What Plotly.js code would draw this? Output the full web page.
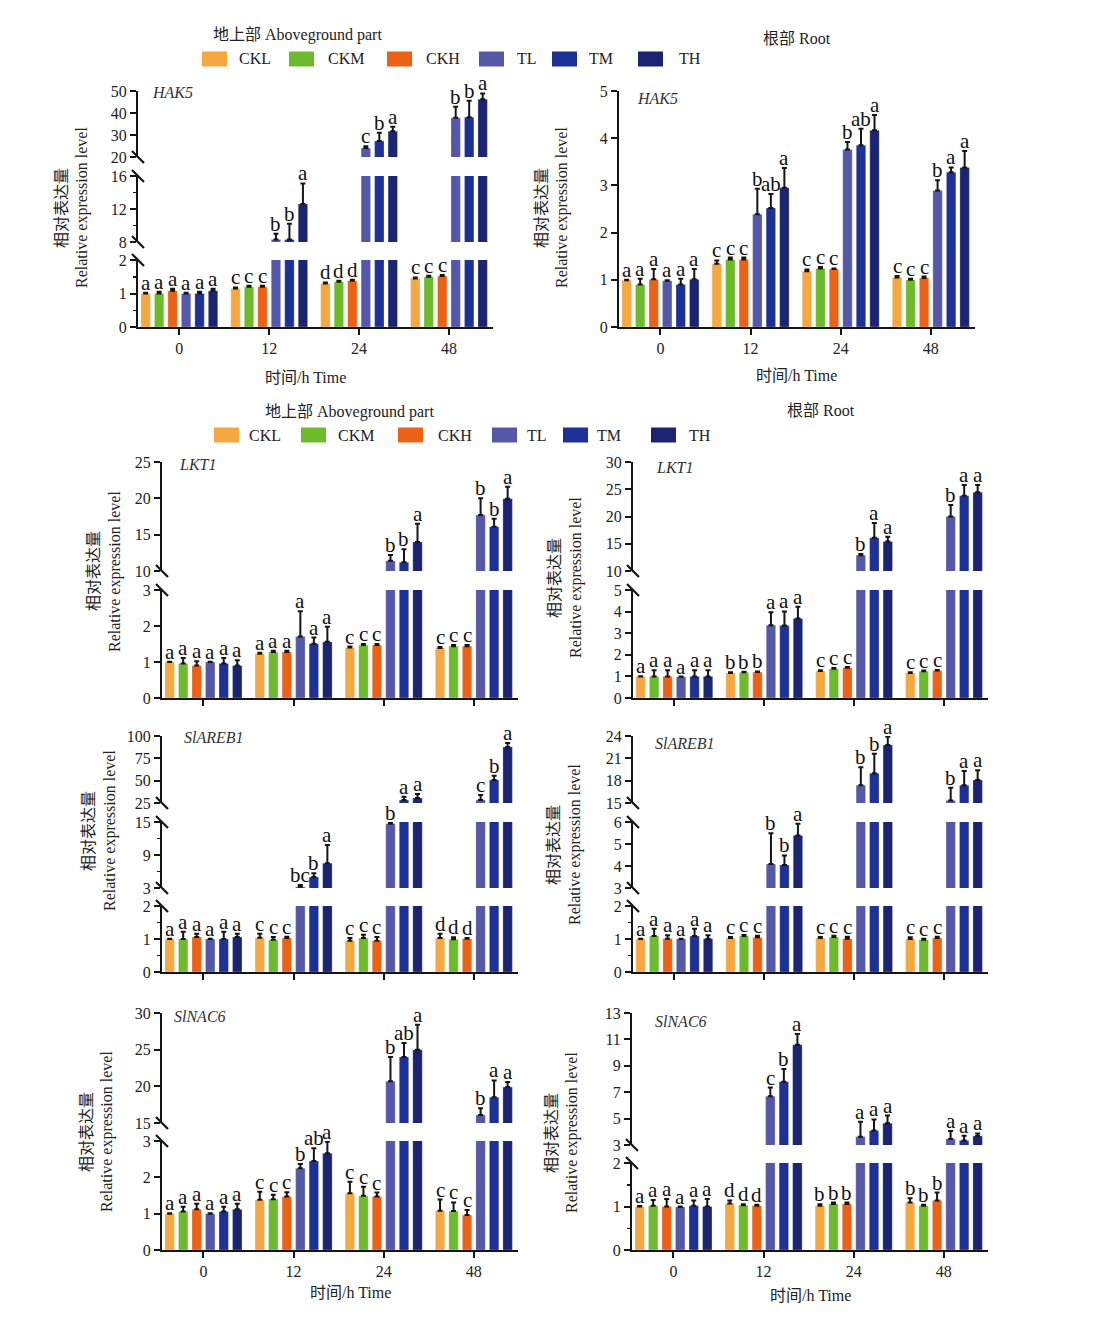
<!DOCTYPE html>
<html><head><meta charset="utf-8">
<script src="https://cdn.plot.ly/plotly-3.0.1.min.js"></script>
<style>html,body{margin:0;padding:0;background:#fff}#chart{width:1100px;height:1342px}</style>
</head><body><div id="chart"></div>
<script>
// ---------------- DATA ----------------
const TIMES = ['0', '12', '24', '48'];
const SERIES = ['CKL', 'CKM', 'CKH', 'TL', 'TM', 'TH'];
const COLORS = ['#F5A842', '#6DBB2D', '#EB6115', '#5458A7', '#1D3194', '#1B2470'];

// rows: CKL, CKM, CKH, TL, TM, TH ; columns: 0, 12, 24, 48 h
const HAK5_ABOVE_MEAN = [[1.00,1.15,1.30,1.45],[1.00,1.20,1.35,1.50],[1.08,1.20,1.38,1.52],[1.00,8.3,24.1,37.8],[1.00,8.3,27.3,38.1],[1.08,12.6,31.7,46.2]];
const HAK5_ABOVE_ERR  = [[0.02,0.03,0.03,0.03],[0.05,0.03,0.03,0.03],[0.06,0.03,0.03,0.03],[0.02,0.7,0.8,5.0],[0.05,1.9,3.7,7.5],[0.06,2.5,2.0,2.7]];
const HAK5_ABOVE_SIG  = [['a','c','d','c'],['a','c','d','c'],['a','c','d','c'],['a','b','c','b'],['a','b','b','b'],['a','a','a','a']];

const HAK5_ROOT_MEAN = [[0.99,1.34,1.18,1.05],[0.90,1.43,1.24,1.00],[1.01,1.43,1.23,1.04],[0.98,2.39,3.76,2.89],[0.90,2.52,3.85,3.28],[1.01,2.95,4.17,3.38]];
const HAK5_ROOT_ERR  = [[0.01,0.07,0.04,0.03],[0.12,0.04,0.03,0.02],[0.22,0.04,0.01,0.03],[0.01,0.54,0.16,0.22],[0.12,0.30,0.35,0.10],[0.22,0.42,0.32,0.35]];
const HAK5_ROOT_SIG  = [['a','c','c','c'],['a','c','c','c'],['a','c','c','c'],['a','b','b','b'],['a','ab','ab','a'],['a','a','a','a']];

const LKT1_ABOVE_MEAN = [[1.00,1.23,1.40,1.39],[0.96,1.28,1.47,1.44],[0.90,1.28,1.47,1.44],[1.00,1.71,11.4,17.7],[0.96,1.51,11.2,16.1],[0.90,1.56,14.0,19.95]];
const LKT1_ABOVE_ERR  = [[0.01,0.03,0.03,0.03],[0.15,0.03,0.03,0.03],[0.12,0.03,0.03,0.03],[0.01,0.70,0.8,2.3],[0.15,0.17,1.8,1.1],[0.15,0.42,2.5,1.65]];
const LKT1_ABOVE_SIG  = [['a','a','c','c'],['a','a','c','c'],['a','a','c','c'],['a','a','b','b'],['a','a','b','b'],['a','a','a','a']];

const LKT1_ROOT_MEAN = [[1.00,1.16,1.25,1.16],[1.00,1.19,1.35,1.24],[1.00,1.20,1.40,1.27],[0.98,3.37,12.9,20.0],[1.00,3.36,16.1,23.8],[1.00,3.68,15.4,24.45]];
const LKT1_ROOT_ERR  = [[0.01,0.03,0.04,0.03],[0.28,0.03,0.04,0.03],[0.28,0.03,0.03,0.03],[0.01,0.60,0.2,2.1],[0.28,0.65,2.7,2.0],[0.28,0.55,0.9,1.35]];
const LKT1_ROOT_SIG  = [['a','b','c','c'],['a','b','c','c'],['a','b','c','c'],['a','a','b','b'],['a','a','a','a'],['a','a','a','a']];

const AREB1_ABOVE_MEAN = [[1.00,1.04,0.95,1.03],[1.00,0.98,1.03,0.99],[1.06,1.03,0.95,1.01],[1.00,3.24,14.7,28.4],[1.00,5.0,28.4,50.8],[1.06,7.5,30.6,87.7]];
const AREB1_ABOVE_ERR  = [[0.01,0.12,0.08,0.13],[0.22,0.08,0.10,0.06],[0.10,0.04,0.11,0.02],[0.01,0.3,0.2,5.6],[0.22,0.7,3.7,4.8],[0.10,3.3,4.5,4.5]];
const AREB1_ABOVE_SIG  = [['a','c','c','d'],['a','c','c','d'],['a','c','c','d'],['a','bc','b','c'],['a','b','a','b'],['a','a','a','a']];

const AREB1_ROOT_MEAN = [[1.00,1.03,1.03,1.00],[1.09,1.09,1.06,0.98],[1.01,1.05,1.01,1.03],[1.00,4.09,17.4,15.35],[1.09,4.05,19.0,17.4],[1.01,5.39,22.8,18.1]];
const AREB1_ROOT_ERR  = [[0.01,0.03,0.03,0.05],[0.22,0.03,0.04,0.03],[0.10,0.05,0.06,0.04],[0.01,1.4,2.4,1.7],[0.22,0.43,2.6,1.9],[0.10,0.53,1.1,1.3]];
const AREB1_ROOT_SIG  = [['a','c','c','c'],['a','c','c','c'],['a','c','c','c'],['a','b','b','b'],['a','b','b','a'],['a','a','a','a']];

const NAC6_ABOVE_MEAN = [[1.00,1.38,1.56,1.08],[1.06,1.40,1.49,1.07],[1.12,1.47,1.47,0.96],[1.00,2.25,20.7,16.1],[1.06,2.45,24.0,18.5],[1.12,2.66,25.0,19.9]];
const NAC6_ABOVE_ERR  = [[0.01,0.22,0.32,0.31],[0.13,0.12,0.25,0.24],[0.15,0.12,0.11,0.14],[0.01,0.12,3.3,0.9],[0.13,0.35,1.9,2.3],[0.15,0.32,3.4,0.7]];
const NAC6_ABOVE_SIG  = [['a','c','c','c'],['a','c','c','c'],['a','c','c','c'],['a','b','b','b'],['a','ab','ab','a'],['a','a','a','a']];

const NAC6_ROOT_MEAN = [[1.00,1.07,1.02,1.09],[1.02,1.03,1.06,1.02],[1.00,1.02,1.06,1.14],[0.99,6.7,3.63,3.46],[1.02,7.8,4.09,3.35],[1.00,10.6,4.65,3.68]];
const NAC6_ROOT_ERR  = [[0.01,0.07,0.03,0.10],[0.13,0.02,0.03,0.02],[0.17,0.02,0.03,0.18],[0.01,0.65,1.14,0.6],[0.12,0.95,0.85,0.35],[0.17,0.8,0.58,0.2]];
const NAC6_ROOT_SIG  = [['a','d','b','b'],['a','d','b','b'],['a','d','b','b'],['a','c','a','a'],['a','b','a','a'],['a','a','a','a']];

// ---------------- LAYOUT CONFIG ----------------
const W = 1100, H = 1342;
const px = v => v / W;
const py = v => 1 - v / H;
const SERIF = '"Liberation Serif", "Times New Roman", "Noto Sans CJK SC", serif';
const INK = '#151515';
const BARGAP = 0.1, GROUPGAP = 0.3;

const panels = [
  {gene:'HAK5', mean:HAK5_ABOVE_MEAN, err:HAK5_ABOVE_ERR, sig:HAK5_ABOVE_SIG, x:[138,493], ticklabels:true,
   segs:[{px:[260,327],range:[0,2],dtick:1,minor:0.5},{px:[176,242],range:[8,16],dtick:4,minor:2},{px:[91,157],range:[20,50],dtick:10}],
   label:[150,93], ytitle:[60,82,208], xtitle:[305,377]},
  {gene:'HAK5', mean:HAK5_ROOT_MEAN, err:HAK5_ROOT_ERR, sig:HAK5_ROOT_SIG, x:[619,975], ticklabels:true,
   segs:[{px:[91,327],range:[0,5],dtick:1}],
   label:[635,98], ytitle:[540,562,208], xtitle:[797,376]},
  {gene:'LKT1', mean:LKT1_ABOVE_MEAN, err:LKT1_ABOVE_ERR, sig:LKT1_ABOVE_SIG, x:[162,518], ticklabels:false,
   segs:[{px:[590,698],range:[0,3],dtick:1},{px:[462,571],range:[10,25],dtick:5}],
   label:[177,465], ytitle:[92,115,571]},
  {gene:'LKT1', mean:LKT1_ROOT_MEAN, err:LKT1_ROOT_ERR, sig:LKT1_ROOT_SIG, x:[633,988], ticklabels:false,
   segs:[{px:[590,698],range:[0,5],dtick:1},{px:[462,571],range:[10,30],dtick:5}],
   label:[654,468], ytitle:[553,576,578]},
  {gene:'SlAREB1', mean:AREB1_ABOVE_MEAN, err:AREB1_ABOVE_ERR, sig:AREB1_ABOVE_SIG, x:[162,518], ticklabels:false,
   segs:[{px:[906,972],range:[0,2],dtick:1,minor:0.5},{px:[822,888],range:[3,15],dtick:6,minor:3},{px:[736,803],range:[25,100],dtick:25}],
   label:[182,737], ytitle:[87,110,831]},
  {gene:'SlAREB1', mean:AREB1_ROOT_MEAN, err:AREB1_ROOT_ERR, sig:AREB1_ROOT_SIG, x:[633,988], ticklabels:false,
   segs:[{px:[906,972],range:[0,2],dtick:1,minor:0.5},{px:[822,888],range:[3,6],dtick:1},{px:[736,803],range:[15,24],dtick:3}],
   label:[653,743], ytitle:[552,575,845]},
  {gene:'SlNAC6', mean:NAC6_ABOVE_MEAN, err:NAC6_ABOVE_ERR, sig:NAC6_ABOVE_SIG, x:[162,518], ticklabels:true,
   segs:[{px:[1141,1250],range:[0,3],dtick:1},{px:[1013,1123],range:[15,30],dtick:5}],
   label:[172,1016], ytitle:[85,107,1132], xtitle:[350,1292]},
  {gene:'SlNAC6', mean:NAC6_ROOT_MEAN, err:NAC6_ROOT_ERR, sig:NAC6_ROOT_SIG, x:[632,988], ticklabels:true,
   segs:[{px:[1163,1250],range:[0,2],dtick:1,minor:0.5},{px:[1013,1145],range:[3,13],dtick:2}],
   label:[653,1021], ytitle:[550,572,1133], xtitle:[810,1295]}
];

const traces = [], annotations = [], shapes = [];
const layout = {
  width: W, height: H, autosize: false,
  margin: {l:0, r:0, t:0, b:0, pad:0},
  paper_bgcolor: '#ffffff', plot_bgcolor: 'rgba(0,0,0,0)',
  showlegend: false, barmode: 'group', bargap: BARGAP, bargroupgap: GROUPGAP,
  font: {family: SERIF, color: '#222'}
};

const slot = (1 - BARGAP) / SERIES.length;
const offsetOf = k => -(1 - BARGAP) / 2 + (k + 0.5) * slot;

let yCount = 0;
panels.forEach((p, pi) => {
  const xName = pi === 0 ? 'x' : 'x' + (pi + 1);
  const xKey = pi === 0 ? 'xaxis' : 'xaxis' + (pi + 1);
  const yNames = [];
  p.segs.forEach((s, si) => {
    yCount++;
    const yName = yCount === 1 ? 'y' : 'y' + yCount;
    const yKey = yCount === 1 ? 'yaxis' : 'yaxis' + yCount;
    yNames.push(yName);
    const ax = {
      domain: [py(s.px[1]), py(s.px[0])], range: s.range, anchor: xName,
      showline: true, linewidth: 2, linecolor: INK, mirror: false,
      ticks: 'outside', ticklen: 6, tickwidth: 2, tickcolor: INK,
      tick0: s.range[0], dtick: s.dtick, showgrid: false, zeroline: false,
      tickfont: {family: SERIF, size: 16, color: '#222'}, fixedrange: true
    };
    if (s.minor) ax.minor = {tick0: s.range[0], dtick: s.minor, ticks: 'outside', ticklen: 3.5, tickwidth: 1.5, tickcolor: INK, showgrid: false};
    layout[yKey] = ax;
    SERIES.forEach((name, k) => {
      traces.push({
        type: 'bar', name: name, x: [0, 1, 2, 3], y: p.mean[k], xaxis: xName, yaxis: yName,
        marker: {color: COLORS[k], line: {width: 0.6, color: 'rgba(255,255,255,0.45)'}},
        error_y: {type: 'data', symmetric: false, array: p.err[k], arrayminus: [0, 0, 0, 0], color: INK, thickness: 2, width: 2.5},
        hoverinfo: 'skip', showlegend: false
      });
    });
  });
  layout[xKey] = {
    domain: [px(p.x[0]), px(p.x[1])], range: [-0.46, 3.49], anchor: yNames[0],
    showline: true, linewidth: 2, linecolor: INK,
    tickmode: 'array', tickvals: [0, 1, 2, 3], ticktext: TIMES, showticklabels: p.ticklabels,
    ticks: 'outside', ticklen: 6, tickwidth: 2, tickcolor: INK, showgrid: false, zeroline: false,
    tickfont: {family: SERIF, size: 16, color: '#222'}, fixedrange: true
  };

  // significance letters
  SERIES.forEach((name, k) => {
    for (let t = 0; t < 4; t++) {
      const top = p.mean[k][t] + p.err[k][t];
      let si = 0;
      for (let j = 0; j < p.segs.length; j++) {
        if (top >= p.segs[j].range[0]) si = j;
      }
      annotations.push({
        x: t + offsetOf(k), y: top, xref: xName, yref: yNames[si],
        text: p.sig[k][t], showarrow: false, xanchor: 'center', yanchor: 'bottom', yshift: -4,
        font: {family: SERIF, size: 21, color: '#111'}
      });
    }
  });

  // axis break marks
  const axX = p.x[0];
  for (let j = 0; j < p.segs.length - 1; j++) {
    [p.segs[j].px[0], p.segs[j + 1].px[1]].forEach(edge => {
      shapes.push({type: 'line', xref: 'paper', yref: 'paper',
        x0: px(axX - 6), y0: py(edge - 6), x1: px(axX + 6), y1: py(edge + 6),
        line: {color: INK, width: 2.2}});
    });
  }

  // gene label
  annotations.push({xref: 'paper', yref: 'paper', x: px(p.label[0]), y: py(p.label[1]), xanchor: 'left', yanchor: 'middle',
    text: '<i>' + p.gene + '</i>', showarrow: false, font: {family: SERIF, size: 16, color: '#333'}});
  // y titles
  annotations.push({xref: 'paper', yref: 'paper', x: px(p.ytitle[0]), y: py(p.ytitle[2]), xanchor: 'center', yanchor: 'middle',
    text: '相对表达量', textangle: -90, showarrow: false, font: {family: '"Noto Sans CJK SC", sans-serif', size: 16, color: '#222'}});
  annotations.push({xref: 'paper', yref: 'paper', x: px(p.ytitle[1]), y: py(p.ytitle[2]), xanchor: 'center', yanchor: 'middle',
    text: 'Relative expression level', textangle: -90, showarrow: false, font: {family: SERIF, size: 16, color: '#222'}});
  if (p.xtitle) {
    annotations.push({xref: 'paper', yref: 'paper', x: px(p.xtitle[0]), y: py(p.xtitle[1]), xanchor: 'center', yanchor: 'middle',
      text: '时间/h Time', showarrow: false, font: {family: SERIF, size: 16, color: '#222'}});
  }
});

// headers and legends (two copies)
const legendRows = [
  {y: 59, sw: [202, 289, 387, 479, 552, 638], tx: [237, 326, 424, 515, 587, 677], above: [297, 35], root: [797, 38]},
  {y: 435, sw: [214, 301, 398, 492, 563, 651], tx: [247, 336, 436, 525, 595, 687], above: [349, 412], root: [821, 410]}
];
legendRows.forEach(r => {
  annotations.push({xref: 'paper', yref: 'paper', x: px(r.above[0]), y: py(r.above[1]), xanchor: 'center', yanchor: 'middle',
    text: '地上部 Aboveground part', showarrow: false, font: {family: SERIF, size: 16, color: '#222'}});
  annotations.push({xref: 'paper', yref: 'paper', x: px(r.root[0]), y: py(r.root[1]), xanchor: 'center', yanchor: 'middle',
    text: '根部 Root', showarrow: false, font: {family: SERIF, size: 16, color: '#222'}});
  SERIES.forEach((name, k) => {
    shapes.push({type: 'rect', xref: 'paper', yref: 'paper', x0: px(r.sw[k]), x1: px(r.sw[k] + 25),
      y0: py(r.y + 7.5), y1: py(r.y - 7.5), fillcolor: COLORS[k], line: {width: 0}});
    annotations.push({xref: 'paper', yref: 'paper', x: px(r.tx[k]), y: py(r.y), xanchor: 'left', yanchor: 'middle',
      text: name, showarrow: false, font: {family: SERIF, size: 16, color: '#222'}});
  });
});

layout.annotations = annotations;
layout.shapes = shapes;

Plotly.newPlot('chart', traces, layout, {staticPlot: true, displayModeBar: false});
</script>
</body></html>
